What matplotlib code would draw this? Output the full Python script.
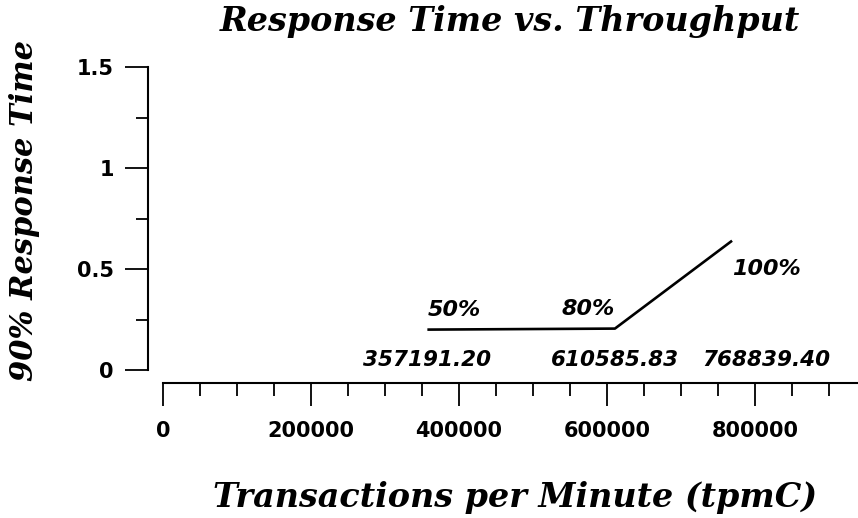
import matplotlib
matplotlib.use('Agg')
import matplotlib.pyplot as plt
from matplotlib.ticker import MultipleLocator

# Data
throughput = [357191.20, 610585.83, 768839.40]
response = [0.20, 0.205, 0.64]
pct_labels = ['50%', '80%', '100%']
value_labels = ['357191.20', '610585.83', '768839.40']
xticks = [0, 200000, 400000, 600000, 800000]
xtick_labels = ['0', '200000', '400000', '600000', '800000']
yticks = [0, 0.5, 1, 1.5]
ytick_labels = ['0', '0.5', '1', '1.5']

W, H = 858, 518
fig = plt.figure(figsize=(W / 100, H / 100), dpi=100)
ax = fig.add_axes([163 / W, 1 - 370 / H, 1 - 163 / W, (370 - 67) / H])

ax.plot(throughput, response, color='black', lw=1.9, solid_capstyle='butt')

ax.set_xlim(0, 939000)
ax.set_ylim(0, 1.5)

for s in ['top', 'right']:
    ax.spines[s].set_visible(False)
ax.spines['left'].set_position(('outward', 15 * 0.72))
ax.spines['bottom'].set_position(('outward', 12.7 * 0.72))
ax.spines['left'].set_bounds(0, 1.5)
for s in ['left', 'bottom']:
    ax.spines[s].set_linewidth(1.5)

ax.set_xticks(xticks)
ax.set_xticklabels(xtick_labels)
ax.set_yticks(yticks)
ax.set_yticklabels(ytick_labels)
ax.xaxis.set_minor_locator(MultipleLocator(50000))
ax.yaxis.set_minor_locator(MultipleLocator(0.25))

for lab in ax.get_xticklabels() + ax.get_yticklabels():
    lab.set_fontfamily('DejaVu Sans')
    lab.set_fontweight('bold')
    lab.set_fontsize(15)

ax.tick_params(axis='x', which='major', direction='out', length=23 * 0.72, width=1.3, pad=11)
ax.tick_params(axis='x', which='minor', direction='out', length=13 * 0.72, width=1.3)
ax.tick_params(axis='y', which='major', direction='out', length=23 * 0.72, width=1.3, pad=8)
ax.tick_params(axis='y', which='minor', direction='out', length=12 * 0.72, width=1.3)

pctfont = dict(family='DejaVu Sans', weight='bold', style='italic', size=16)
valfont = dict(family='DejaVu Sans', weight='bold', style='italic', size=15.5)

# percentage labels
pct_offsets = [(0, 20), (0, 20), (0, -28)]
pct_ha = ['left', 'right', 'left']
for x, y, t, off, ha in zip(throughput, response, pct_labels, pct_offsets, pct_ha):
    ax.annotate(t, xy=(x, y), xytext=off, textcoords='offset pixels',
                ha=ha, va='center', **pctfont)

# value labels
val_offsets = [0, 0, 34]
for x, t, off in zip(throughput, value_labels, val_offsets):
    ax.annotate(t, xy=(x, 0), xytext=(off, 10), textcoords='offset pixels',
                ha='center', va='center', **valfont)

serif = dict(family='DejaVu Serif', weight='bold', style='italic')
fig.text(510 / W, 1 - 22 / H, 'Response Time vs. Throughput', ha='center', va='center',
         size=24, **serif)
fig.text(515 / W, 1 - 497 / H, 'Transactions per Minute (tpmC)', ha='center', va='center',
         size=24, **serif)
fig.text(25 / W, 1 - 210 / H, '90% Response Time', ha='center', va='center',
         rotation=90, size=22, **serif)

fig.savefig('out.png', dpi=100)
